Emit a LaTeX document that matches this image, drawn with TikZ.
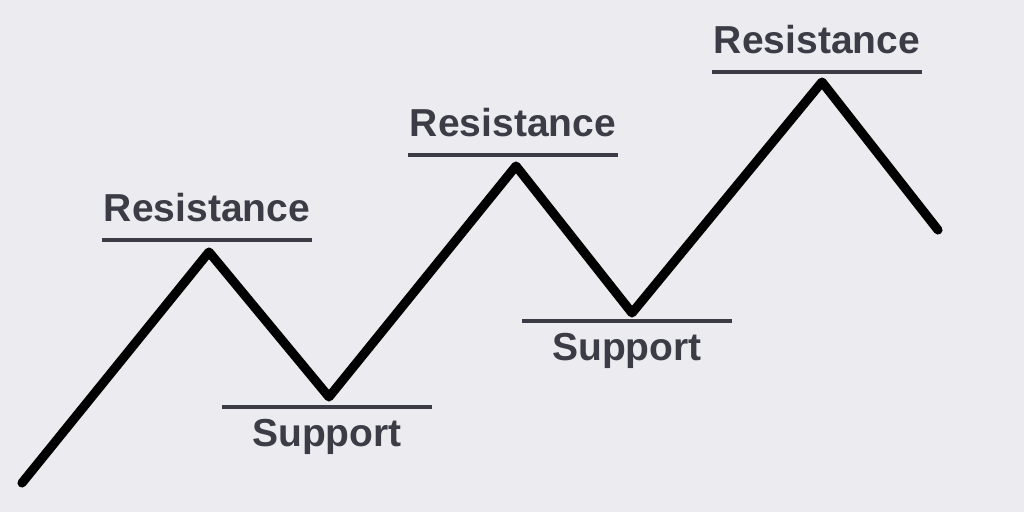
\documentclass[tikz,border=0pt]{standalone}
\usepackage{fontspec}
\setmainfont{Liberation Sans}
\definecolor{bgcol}{HTML}{ECECF0}
\definecolor{levelcol}{HTML}{3C3C46}
\tikzset{
  price/.style={line width=2.6pt, line join=round, line cap=round, black},
  level/.style={line width=1.15pt, levelcol},
  lbl/.style={font=\fontsize{11.1}{13}\selectfont\bfseries, text=levelcol, inner sep=0pt}
}

\begin{document}
\begin{tikzpicture}
                      % Draw Background
                      \fill[bgcol] (0,0) rectangle (10.24,5.12);
                      \useasboundingbox (0,0) rectangle (10.24,5.12);
                      % Price path
                      \coordinate (p0) at (0.22,0.29);
                      \coordinate (p1) at (2.09,2.60);
                      \coordinate (p2) at (3.29,1.15);
                      \coordinate (p3) at (5.16,3.46);
                      \coordinate (p4) at (6.32,1.99);
                      \coordinate (p5) at (8.22,4.30);
                      \coordinate (p6) at (9.38,2.82);
                      \draw[price] (p0) -- (p1) -- (p2) -- (p3) -- (p4) -- (p5) -- (p6);
                      % Resistance levels
                      \foreach \n/\x/\y in {r1/1.02/2.72, r2/4.08/3.57, r3/7.12/4.40}
                          {
                              \coordinate (\n a) at (\x,\y);
                              \coordinate (\n b) at (\x+2.10,\y);
                              \draw[level] (\n a) -- (\n b);
                              \node[lbl, anchor=base] (\n) at (\x+1.05,\y+0.18) {Resistance};
                          }
                      % Support levels
                      \foreach \n/\x/\y in {s1/2.22/1.05, s2/5.22/1.91}
                          {
                              \coordinate (\n a) at (\x,\y);
                              \coordinate (\n b) at (\x+2.10,\y);
                              \draw[level] (\n a) -- (\n b);
                              \node[lbl, anchor=base] (\n) at (\x+1.05,\y-0.40) {Support};
                          }
\end{tikzpicture}
\end{document}
